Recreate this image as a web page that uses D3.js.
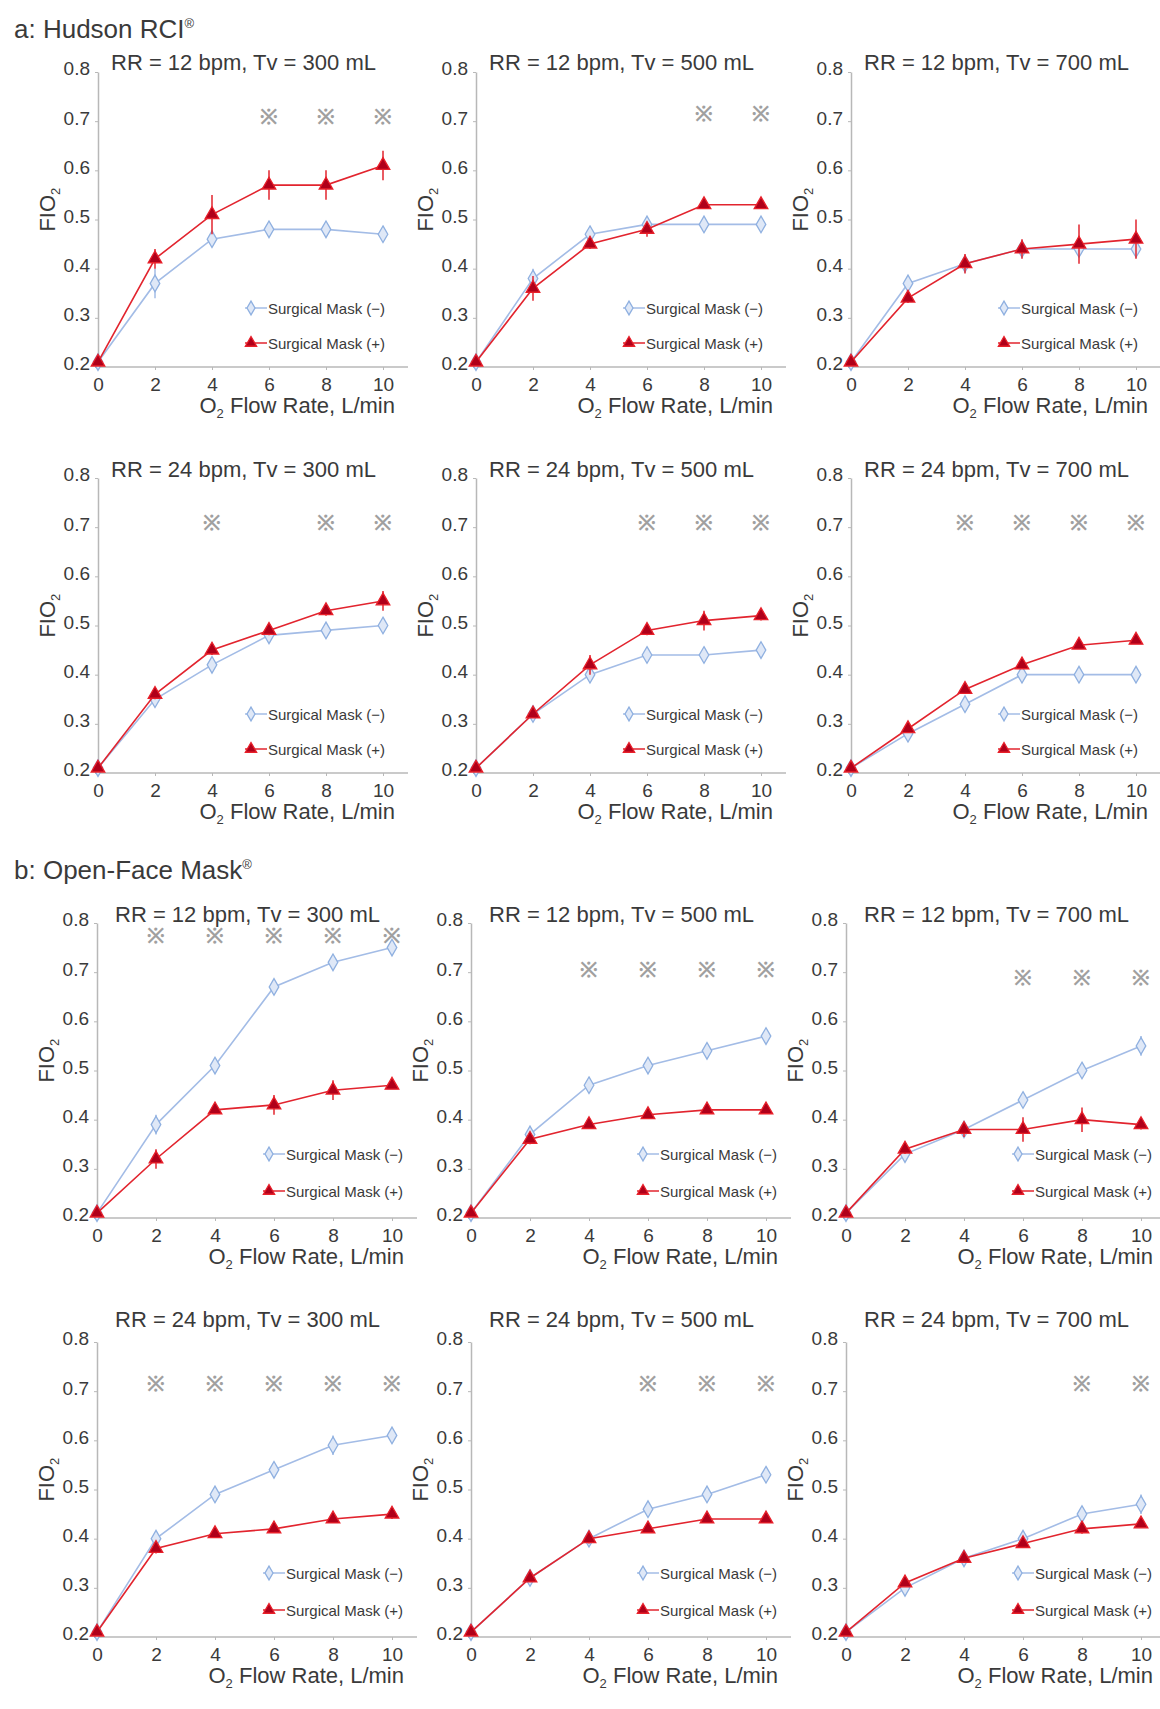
<!DOCTYPE html>
<html>
<head>
<meta charset="utf-8">
<script src="https://cdn.jsdelivr.net/npm/d3@7"></script>
<style>
  body { margin: 0; background: #fff; }
  text { font-family: "Liberation Sans", Arial, sans-serif; fill: #3a3a3a; }
</style>
</head>
<body>
<script>
var width = 1160;
var height = 1709;

var flow = [0, 2, 4, 6, 8, 10];
var xTicks = [0, 2, 4, 6, 8, 10];
var yTicks = [0.2, 0.3, 0.4, 0.5, 0.6, 0.7, 0.8];

var sections = ["a: Hudson RCI", "b: Open-Face Mask"];

var panelTitles = [
    "RR = 12 bpm, Tv = 300 mL", "RR = 12 bpm, Tv = 500 mL", "RR = 12 bpm, Tv = 700 mL",
    "RR = 24 bpm, Tv = 300 mL", "RR = 24 bpm, Tv = 500 mL", "RR = 24 bpm, Tv = 700 mL",
    "RR = 12 bpm, Tv = 300 mL", "RR = 12 bpm, Tv = 500 mL", "RR = 12 bpm, Tv = 700 mL",
    "RR = 24 bpm, Tv = 300 mL", "RR = 24 bpm, Tv = 500 mL", "RR = 24 bpm, Tv = 700 mL"
];

var seriesNames = ["Surgical Mask (\u2212)", "Surgical Mask (+)"];

// FIO2, surgical mask (-)
var maskOff = [
    [0.21, 0.37, 0.46, 0.48, 0.48, 0.47],
    [0.21, 0.38, 0.47, 0.49, 0.49, 0.49],
    [0.21, 0.37, 0.41, 0.44, 0.44, 0.44],
    [0.21, 0.35, 0.42, 0.48, 0.49, 0.50],
    [0.21, 0.32, 0.40, 0.44, 0.44, 0.45],
    [0.21, 0.28, 0.34, 0.40, 0.40, 0.40],
    [0.21, 0.39, 0.51, 0.67, 0.72, 0.75],
    [0.21, 0.37, 0.47, 0.51, 0.54, 0.57],
    [0.21, 0.33, 0.38, 0.44, 0.50, 0.55],
    [0.21, 0.40, 0.49, 0.54, 0.59, 0.61],
    [0.21, 0.32, 0.40, 0.46, 0.49, 0.53],
    [0.21, 0.30, 0.36, 0.40, 0.45, 0.47]
];

// FIO2, surgical mask (+)
var maskOn = [
    [0.21, 0.42, 0.51, 0.57, 0.57, 0.61],
    [0.21, 0.36, 0.45, 0.48, 0.53, 0.53],
    [0.21, 0.34, 0.41, 0.44, 0.45, 0.46],
    [0.21, 0.36, 0.45, 0.49, 0.53, 0.55],
    [0.21, 0.32, 0.42, 0.49, 0.51, 0.52],
    [0.21, 0.29, 0.37, 0.42, 0.46, 0.47],
    [0.21, 0.32, 0.42, 0.43, 0.46, 0.47],
    [0.21, 0.36, 0.39, 0.41, 0.42, 0.42],
    [0.21, 0.34, 0.38, 0.38, 0.40, 0.39],
    [0.21, 0.38, 0.41, 0.42, 0.44, 0.45],
    [0.21, 0.32, 0.40, 0.42, 0.44, 0.44],
    [0.21, 0.31, 0.36, 0.39, 0.42, 0.43]
];

// error bars (SD)
var errOff = [
    [0, 0.03, 0.015, 0.005, 0.005, 0.005],
    [0, 0.02, 0.015, 0.01, 0.005, 0.005],
    [0, 0.01, 0.01, 0.01, 0.01, 0.01],
    [0, 0.01, 0.01, 0.005, 0.005, 0.005],
    [0, 0.005, 0.01, 0.005, 0.005, 0.005],
    [0, 0.005, 0.005, 0.005, 0.005, 0.005],
    [0, 0.02, 0.01, 0.015, 0.01, 0.005],
    [0, 0.01, 0.005, 0.005, 0.005, 0.01],
    [0, 0.01, 0.01, 0.01, 0.005, 0.02],
    [0, 0.01, 0.015, 0.005, 0.02, 0.005],
    [0, 0.005, 0.005, 0.01, 0.01, 0.005],
    [0, 0.005, 0.005, 0.01, 0.015, 0.02]
];
var errOn = [
    [0, 0.02, 0.04, 0.03, 0.03, 0.03],
    [0, 0.025, 0.01, 0.015, 0.005, 0.005],
    [0, 0.01, 0.02, 0.02, 0.04, 0.04],
    [0, 0.01, 0.01, 0.01, 0.01, 0.02],
    [0, 0.005, 0.02, 0.01, 0.02, 0.01],
    [0, 0.005, 0.005, 0.005, 0.005, 0.005],
    [0, 0.02, 0.005, 0.02, 0.02, 0.005],
    [0, 0.01, 0.005, 0.005, 0.005, 0.005],
    [0, 0.01, 0.015, 0.025, 0.025, 0.01],
    [0, 0.01, 0.005, 0.005, 0.005, 0.01],
    [0, 0.005, 0.01, 0.005, 0.005, 0.005],
    [0, 0.005, 0.005, 0.005, 0.01, 0.005]
];

// flow rates with a significant difference, and the FIO2 level the mark sits at
var sigFlows = [
    [6, 8, 10], [8, 10], [],
    [4, 8, 10], [6, 8, 10], [4, 6, 8, 10],
    [2, 4, 6, 8, 10], [4, 6, 8, 10], [6, 8, 10],
    [2, 4, 6, 8, 10], [6, 8, 10], [8, 10]
];
var sigLevel = [0.71, 0.715, 0.71, 0.71, 0.71, 0.71, 0.775, 0.705, 0.69, 0.715, 0.715, 0.715];

// layout
var rowBase = [367, 773, 1218, 1637];      // pixel of FIO2 = 0.2
var plotH = 295;
var titleShift = [-2, -1, -1, -15];
var colLeft = [[98, 476, 851], [97, 471, 846]];
var plotW = [285, 295];
var legendX = [153, 172];
var legendY = [[-59, -24], [-64, -27]];

var blue = { line: "#a3bce6", stroke: "#8fb0e0", fill: "#dfe8f7" };
var red = { line: "#e2242e", stroke: "#e8202a", fill: "#b0001a" };

var svg = d3.select("body")
    .append("svg")
    .attr("width", width)
    .attr("height", height);

addSection(14, 38, sections[0]);
addSection(14, 879, sections[1]);

for (var i = 0; i < 12; i++) {
    drawPanel(i);
}

function addSection(x, y, label) {
    var t = svg.append("text")
        .attr("x", x)
        .attr("y", y)
        .attr("font-size", "26px");
    t.append("tspan").text(label);
    t.append("tspan")
        .text("\u00ae")
        .attr("font-size", "13px")
        .attr("dy", "-10");
}

function drawPanel(i) {
    var row = Math.floor(i / 3);
    var col = i % 3;
    var part = row < 2 ? 0 : 1;
    var x0 = colLeft[part][col];
    var base = rowBase[row];

    var x = d3.scaleLinear().domain([0, 10]).range([x0, x0 + plotW[part]]);
    var y = d3.scaleLinear().domain([0.2, 0.8]).range([base, base - plotH]);

    var g = svg.append("g");

    // y axis
    var yAxis = g.append("g")
        .attr("transform", `translate(${x0},0)`)
        .call(d3.axisLeft(y).tickValues(yTicks).tickFormat(d3.format(".1f"))
            .tickSize(3).tickSizeOuter(0).tickPadding(5));
    styleAxis(yAxis);
    yAxis.selectAll("text").attr("dy", "0.15em");

    // x axis
    var xAxis = g.append("g")
        .attr("transform", `translate(0,${base})`)
        .call(d3.axisBottom(x).tickValues(xTicks).tickSize(3).tickSizeOuter(0).tickPadding(8));
    styleAxis(xAxis);
    xAxis.select(".domain").remove();
    xAxis.append("line")
        .attr("x1", x0)
        .attr("x2", x.range()[1] + 25)
        .attr("stroke", "#b8b8b8")
        .attr("stroke-width", 1.5);

    // panel title
    g.append("text")
        .attr("x", x0 + plotW[part] / 2 + 3)
        .attr("y", y(0.8) + titleShift[row])
        .attr("text-anchor", "middle")
        .attr("font-size", "22px")
        .text(panelTitles[i]);

    // axis titles
    var xt = g.append("text")
        .attr("x", x(10) + 12)
        .attr("y", base + 46)
        .attr("text-anchor", "end")
        .attr("font-size", "22px");
    xt.append("tspan").text("O");
    xt.append("tspan").text("2").attr("font-size", "13px").attr("dy", "5");
    xt.append("tspan").text(" Flow Rate, L/min").attr("dy", "-5");

    var yt = g.append("text")
        .attr("transform", `translate(${x0 - 43},${y(0.52)}) rotate(-90)`)
        .attr("text-anchor", "middle")
        .attr("font-size", "22px");
    yt.append("tspan").text("FIO");
    yt.append("tspan").text("2").attr("font-size", "13px").attr("dy", "5");

    // significance marks
    g.selectAll(".sig")
        .data(sigFlows[i])
        .join("text")
        .attr("x", d => x(d))
        .attr("y", y(sigLevel[i]))
        .attr("text-anchor", "middle")
        .attr("dominant-baseline", "central")
        .attr("font-size", "21px")
        .attr("font-weight", "bold")
        .attr("font-family", "DejaVu Sans")
        .style("fill", "#a0a0a0")
        .text("\u203b");

    drawSeries(g, x, y, maskOff[i], errOff[i], blue, d3.symbolDiamond);
    drawSeries(g, x, y, maskOn[i], errOn[i], red, d3.symbolTriangle);

    // legend
    var lx = x0 + legendX[part];
    [[blue, d3.symbolDiamond], [red, d3.symbolTriangle]].forEach(function (s, k) {
        var ly = base + legendY[part][k];
        g.append("line")
            .attr("x1", lx - 6).attr("x2", lx + 16)
            .attr("y1", ly).attr("y2", ly)
            .attr("stroke", s[0].line)
            .attr("stroke-width", 1.5);
        g.append("path")
            .attr("d", d3.symbol().type(s[1]).size(55)())
            .attr("transform", `translate(${lx},${ly})`)
            .attr("fill", s[0].fill)
            .attr("stroke", s[0].stroke)
            .attr("stroke-width", 1.3);
        g.append("text")
            .attr("x", lx + 17)
            .attr("y", ly)
            .attr("dominant-baseline", "central")
            .attr("font-size", "15px")
            .text(seriesNames[k]);
    });
}

function drawSeries(g, x, y, values, errs, c, shape) {
    var pts = flow.map((f, j) => ({ f: f, v: values[j], e: errs[j] }));

    g.append("path")
        .datum(pts)
        .attr("fill", "none")
        .attr("stroke", c.line)
        .attr("stroke-width", 1.6)
        .attr("d", d3.line().x(d => x(d.f)).y(d => y(d.v)));

    g.selectAll(null)
        .data(pts.filter(d => d.e > 0))
        .join("line")
        .attr("x1", d => x(d.f)).attr("x2", d => x(d.f))
        .attr("y1", d => y(d.v - d.e)).attr("y2", d => y(d.v + d.e))
        .attr("stroke", c.line)
        .attr("stroke-width", 1.5);

    g.selectAll(null)
        .data(pts)
        .join("path")
        .attr("d", d3.symbol().type(shape).size(80)())
        .attr("transform", d => `translate(${x(d.f)},${y(d.v)})`)
        .attr("fill", c.fill)
        .attr("stroke", c.stroke)
        .attr("stroke-width", 1.3);
}

function styleAxis(axis) {
    axis.select(".domain").attr("stroke", "#b8b8b8").attr("stroke-width", 1.5);
    axis.selectAll(".tick line").attr("stroke", "#b8b8b8");
    axis.selectAll("text")
        .attr("font-size", "19px")
        .attr("font-family", "Liberation Sans, Arial, sans-serif")
        .attr("fill", "#3a3a3a");
}
</script>
</body>
</html>
